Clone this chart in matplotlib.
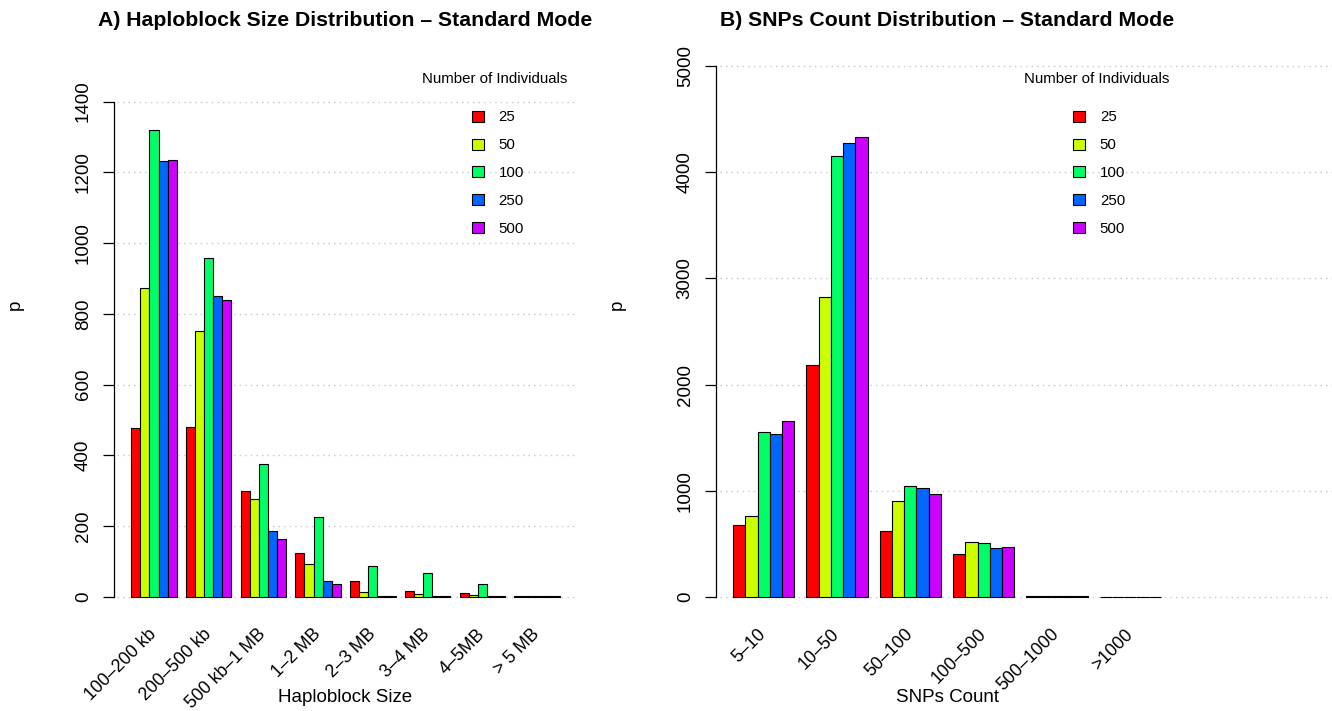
import matplotlib.pyplot as plt
from matplotlib.patches import Patch
import numpy as np

plt.rcParams['font.family'] = ['Liberation Sans', 'DejaVu Sans']

# number of individuals -> colours (R rainbow(5))
individuals = ['25', '50', '100', '250', '500']
colors = ['#FF0000', '#CCFF00', '#00FF66', '#0066FF', '#CC00FF']

# panel A: haploblock size
hap_labels = ['100\u2013200 kb', '200\u2013500 kb', '500 kb\u20131 MB', '1\u20132 MB',
              '2\u20133 MB', '3\u20134 MB', '4\u20135MB', '> 5 MB']
hap_25 = [478, 480, 300, 125, 44, 15, 12, 1]
hap_50 = [874, 750, 277, 93, 13, 9, 5, 1]
hap_100 = [1320, 958, 375, 225, 86, 67, 37, 1]
hap_250 = [1233, 851, 185, 45, 1, 1, 1, 1]
hap_500 = [1236, 840, 163, 35, 1, 1, 1, 1]

# panel B: SNPs count
snp_labels = ['5\u201310', '10\u201350', '50\u2013100', '100\u2013500', '500\u20131000', '>1000']
snp_25 = [678, 2185, 621, 402, 8, 1]
snp_50 = [763, 2825, 902, 515, 9, 1]
snp_100 = [1554, 4153, 1045, 511, 9, 1]
snp_250 = [1535, 4275, 1026, 455, 8, 1]
snp_500 = [1657, 4331, 970, 471, 7, 1]

W, H = 1332, 711


def bar_panel(fig, ax, series, labels, ymax_lim, yticks, title, xlabel, grid_right=None):
    ngroup = len(labels)
    base = np.arange(ngroup) * 6 + 1
    for j, vals in enumerate(series):
        ax.bar(base + j + 0.5, vals, width=1.0, color=colors[j],
               edgecolor='black', linewidth=0.8, zorder=3)
    lo = 1 - 0.04 * (ngroup * 6 - 1)
    hi = ngroup * 6 + 0.04 * (ngroup * 6 - 1)
    ax.set_xlim(lo, hi)
    ax.set_ylim(-0.04 * ymax_lim, 1.04 * ymax_lim)
    gr = hi if grid_right is None else grid_right
    ax.hlines(yticks, lo + 0.3, gr, colors='#C8C8C8', linestyles=(0, (1, 3)),
              linewidth=1.0, zorder=1, clip_on=False)
    for s in ['top', 'right', 'bottom']:
        ax.spines[s].set_visible(False)
    ax.spines['left'].set_bounds(yticks[0], yticks[-1])
    ax.spines['left'].set_linewidth(0.9)
    ax.set_yticks(yticks)
    ax.set_yticklabels([str(t) for t in yticks], rotation=90, va='center', fontsize=13.5)
    ax.tick_params(axis='y', length=8, width=0.9, pad=8)
    centers = base + 2.5
    ax.set_xticks(centers)
    ax.set_xticklabels(labels, rotation=45, ha='right', va='center',
                       rotation_mode='anchor', fontsize=12.8)
    ax.tick_params(axis='x', length=0, pad=10)

    # titles and axis labels at fixed figure positions
    bb = ax.get_position()
    cx = (bb.x0 + bb.x1) / 2
    fig.text(cx, 1 - 20 / H, title, ha='center', va='center',
             fontsize=15.3, fontweight='bold')
    fig.text(cx, 1 - 698 / H, xlabel, ha='center', va='center', fontsize=13.5)
    fig.text(bb.x0 - 99 / W, 1 - 305 / H, 'p', ha='center', va='center',
             rotation=90, fontsize=13.5)

    ax.text(0.823, 0.941, 'Number of Individuals', transform=ax.transAxes,
            ha='center', va='center', fontsize=10.8)
    handles = [Patch(facecolor=c, edgecolor='black', linewidth=0.8) for c in colors]
    ax.legend(handles, individuals, loc='upper left', bbox_to_anchor=(0.773, 0.886),
              frameon=False, fontsize=10.8, handlelength=0.78, handleheight=0.75,
              handletextpad=1.0, labelspacing=0.93, borderpad=0, borderaxespad=0)


fig = plt.figure(figsize=(W / 100, H / 100), dpi=100)
axA = fig.add_axes([114 / W, 93 / H, 463 / W, 573 / H])
axB = fig.add_axes([716 / W, 93 / H, 462 / W, 573 / H])

bar_panel(fig, axA, [hap_25, hap_50, hap_100, hap_250, hap_500], hap_labels, 1500,
          list(range(0, 1401, 200)),
          'A) Haploblock Size Distribution \u2013 Standard Mode', 'Haploblock Size')
bar_panel(fig, axB, [snp_25, snp_50, snp_100, snp_250, snp_500], snp_labels, 5000,
          list(range(0, 5001, 1000)),
          'B) SNPs Count Distribution \u2013 Standard Mode', 'SNPs Count', grid_right=50)

fig.savefig('out.png', dpi=100)
